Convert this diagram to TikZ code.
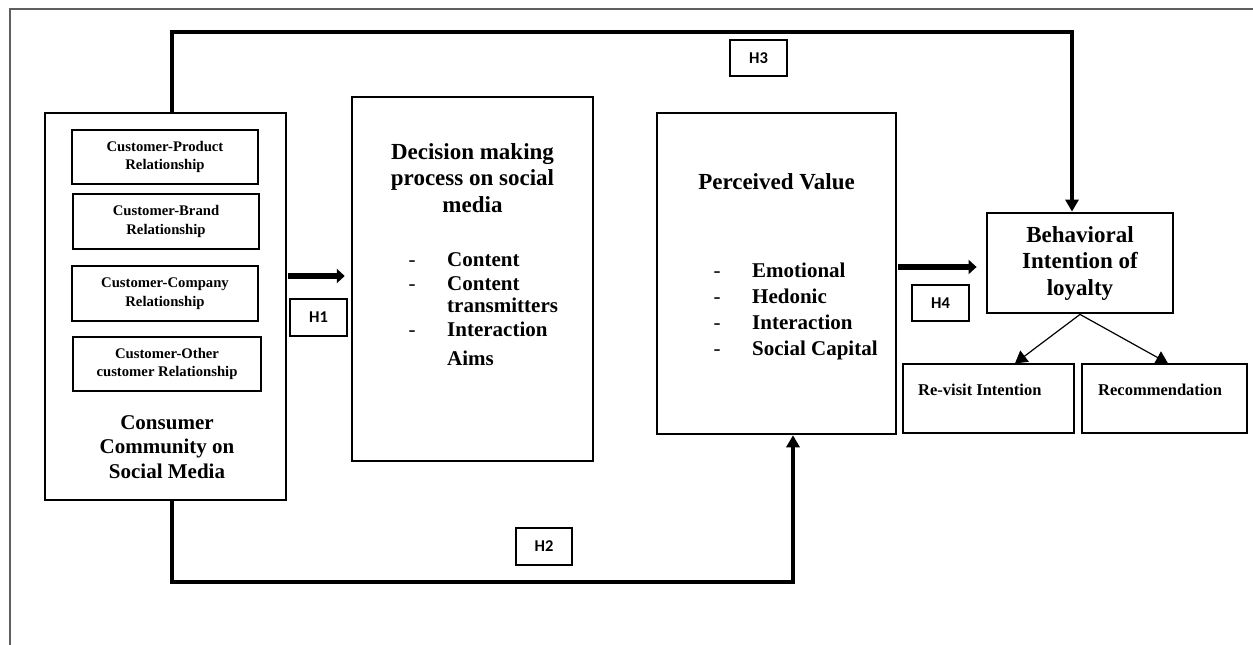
\documentclass[tikz,border=0pt]{standalone}
\usepackage{fontspec}
\setmainfont{Liberation Serif}
\newfontfamily\hfont{Carlito}
\usetikzlibrary{arrows.meta,calc}
\definecolor{framegray}{RGB}{95,95,95}
\begin{document}
\begin{tikzpicture}[x=1pt,y=-1pt,
  bigbox/.style={draw, line width=2.5pt, inner sep=0pt},
  behbox/.style={draw, line width=2.8pt, inner sep=0pt, align=center, font=\bfseries\fontsize{23}{26.5}\selectfont},
  smallbox/.style={draw, line width=1.2pt, inner sep=0pt, align=center, font=\bfseries\fontsize{14.7}{18.5}\selectfont},
  outbox/.style={draw, line width=1.3pt, inner sep=0pt},
  hbox/.style={draw, line width=1.1pt, inner sep=0pt, font=\hfont\bfseries\fontsize{16.5}{18}\selectfont},
  ttl/.style={font=\bfseries\fontsize{23}{26.5}\selectfont, align=center, inner sep=0pt},
  ctl/.style={font=\bfseries\fontsize{21}{24.5}\selectfont, align=center, inner sep=0pt},
  itm/.style={font=\bfseries\fontsize{21}{24}\selectfont, inner sep=0pt, anchor=base west},
  itmdash/.style={font=\fontsize{21}{24}\selectfont, inner sep=0pt, anchor=base},
  outtxt/.style={font=\bfseries\fontsize{16.5}{19}\selectfont, inner sep=0pt, anchor=base west},
  conn/.style={line width=4pt, line join=miter, -{Triangle[length=12pt,width=13pt]}},
  fatarrow/.style={line width=6pt, -{Triangle[length=8pt,width=14pt]}},
  thinarrow/.style={line width=1.2pt, -{Triangle[length=12pt,width=14pt]}}
]
\useasboundingbox (0,0) rectangle (1253,645);
% outer frame (open to the right and bottom)
\draw[framegray, line width=1.3pt] (10,645) -- (10,9) -- (1253,9);

% Consumer community box
\node[bigbox, minimum width=241pt, minimum height=387pt] (cons) at (165.5,306.5) {};
\node[smallbox, minimum width=186pt, minimum height=54pt] (cp) at (165,157) {Customer-Product\\Relationship};
\node[smallbox, minimum width=186pt, minimum height=55pt] (cb) at (166,221.5) {Customer-Brand\\Relationship};
\node[smallbox, minimum width=186pt, minimum height=55pt] (cc) at (165,293.5) {Customer-Company\\Relationship};
\node[smallbox, minimum width=188pt, minimum height=54pt] (co) at (167,364) {Customer-Other\\customer Relationship};
\node[ctl] (constitle) at (167,447) {Consumer\\Community on\\Social Media};

% Decision making box
\node[bigbox, minimum width=241pt, minimum height=364pt] (dec) at (472.5,279) {};
\node[ttl] (dectitle) at (472.5,178) {Decision making\\process on social\\media};
\node[itmdash] (dd1) at (412,266) {-};
\node[itm] (di1) at (447,266) {Content};
\node[itmdash] (dd2) at (412,290) {-};
\node[itm] (di2) at (447,290) {Content};
\node[itm] (di3) at (447,312) {transmitters};
\node[itmdash] (dd3) at (412,336) {-};
\node[itm] (di4) at (447,336) {Interaction};
\node[itm] (di5) at (447,365) {Aims};

% Perceived value box
\node[bigbox, minimum width=239pt, minimum height=321pt] (perc) at (776.5,273.5) {};
\node[ttl, anchor=base] (perctitle) at (776.5,189) {Perceived Value};
\node[itmdash] (pd1) at (717,277) {-};
\node[itm] (pi1) at (752,277) {Emotional};
\node[itmdash] (pd2) at (717,303) {-};
\node[itm] (pi2) at (752,303) {Hedonic};
\node[itmdash] (pd3) at (717,329) {-};
\node[itm] (pi3) at (752,329) {Interaction};
\node[itmdash] (pd4) at (717,355) {-};
\node[itm] (pi4) at (752,355) {Social Capital};

% Behavioral intention
\node[behbox, minimum width=186pt, minimum height=100pt] (beh) at (1080,263) {Behavioral\\Intention of\\loyalty};

% outcome boxes
\node[outbox, minimum width=171pt, minimum height=69pt] (rev) at (988.5,398.5) {};
\node[outtxt] (revt) at (918,395) {Re-visit Intention};
\node[outbox, minimum width=165pt, minimum height=69pt] (rec) at (1164.5,398.5) {};
\node[outtxt] (rect) at (1098,395) {Recommendation};

% hypothesis labels
\node[hbox, minimum width=57pt, minimum height=37pt] (h1) at (318.5,317.5) {H1};
\node[hbox, minimum width=56pt, minimum height=37pt] (h2) at (544,546.5) {H2};
\node[hbox, minimum width=57pt, minimum height=36pt] (h3) at (758.5,58) {H3};
\node[hbox, minimum width=57pt, minimum height=36pt] (h4) at (940.5,303) {H4};

% connector helper coordinates
\coordinate (h1y) at (0,276);
\coordinate (h4y) at (0,267);
\coordinate (h3l) at (172,32);
\coordinate (h3r) at (1072,32);
\coordinate (h2l) at (172,582);
\coordinate (h2r) at (793,582);
\coordinate (t1) at (1015,0);
\coordinate (t2) at (1168,0);

% connectors
\draw[fatarrow, shorten <=1pt, shorten >=6pt] (cons.east |- h1y) -- (dec.west |- h1y);
\draw[fatarrow, shorten <=1pt, shorten >=9pt] (perc.east |- h4y) -- (beh.west |- h4y);
\draw[conn] (cons.north -| h3l) -- (h3l) -- (h3r) -- (beh.north -| h3r);
\draw[conn] (cons.south -| h2l) -- (h2l) -- (h2r) -- (perc.south -| h2r);
\draw[thinarrow] (beh.south) -- (rev.north -| t1);
\draw[thinarrow] (beh.south) -- (rec.north -| t2);
\end{tikzpicture}
\end{document}
